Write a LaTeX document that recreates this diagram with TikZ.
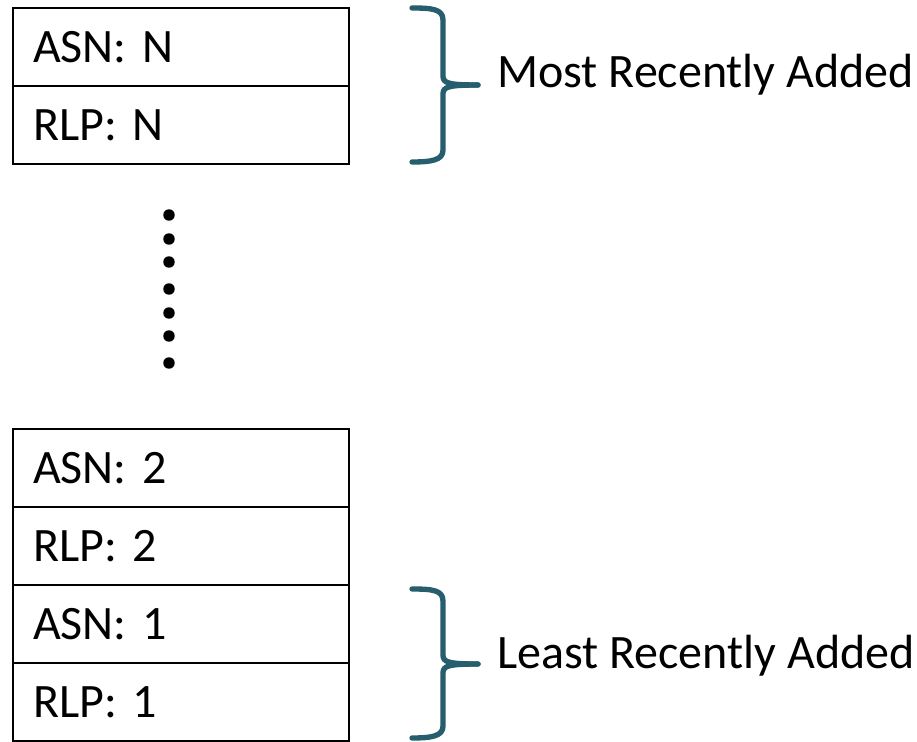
\documentclass[tikz,border=0pt]{standalone}
\usepackage{fontspec}
\setmainfont{Carlito}
\definecolor{bracecol}{HTML}{265E6E}
\frenchspacing
\begin{document}
\begin{tikzpicture}[x=0.75pt,y=-0.75pt,
  every node/.style={font=\fontsize{36}{42}\selectfont\frenchspacing},
  cell/.style={draw=black, line width=1.5pt, rectangle, anchor=north west,
    text width=222pt, align=left, inner xsep=15pt, inner ysep=0pt,
    minimum width=252pt, minimum height=58.5pt},
  dotnode/.style={circle, fill=black, inner sep=0pt, minimum size=8.6pt},
  bracepath/.style={draw=bracecol, line width=4pt, line cap=round, line join=round},
  lbl/.style={anchor=base west, inner sep=0pt}]
\useasboundingbox (0,0) rectangle (917,742);
% top stack
\node[cell] (asnN) at (12,7) {ASN: N};
\node[cell] (rlpN) at (12,85) {RLP: N};
% bottom stack
\node[cell] (asn2) at (12,428) {ASN: 2};
\node[cell] (rlp2) at (12,506) {RLP: 2};
\node[cell] (asn1) at (12,584) {ASN: 1};
\node[cell] (rlp1) at (12,662) {RLP: 1};
% dots
\foreach \i/\y in {1/215,2/239,3/262,4/289,5/313,6/336,7/363}
  \node[dotnode] (d\i) at (169,\y) {};
% top brace
\coordinate (tbtop) at (412,8);
\coordinate (tbtip) at (478,85);
\coordinate (tbbot) at (412,162);
\draw[bracepath] (tbtop) .. controls (432,8) and (443,9) .. (443,20) -- (443,76)
  .. controls (443,83) and (448,85) .. (tbtip);
\draw[bracepath] (tbtip) .. controls (448,85) and (443,87) .. (443,94) -- (443,150)
  .. controls (443,160) and (432,162) .. (tbbot);
% bottom brace
\coordinate (bbtop) at (412,589);
\coordinate (bbtip) at (478,664);
\coordinate (bbbot) at (412,738);
\draw[bracepath] (bbtop) .. controls (432,589) and (443,590) .. (443,601) -- (443,655)
  .. controls (443,662) and (448,664) .. (bbtip);
\draw[bracepath] (bbtip) .. controls (448,664) and (443,666) .. (443,673) -- (443,726)
  .. controls (443,736) and (432,738) .. (bbbot);
% labels
\node[lbl] (most) at (497,88) {Most Recently Added};
\node[lbl] (least) at (497,668) {Least Recently Added};
\end{tikzpicture}
\end{document}
